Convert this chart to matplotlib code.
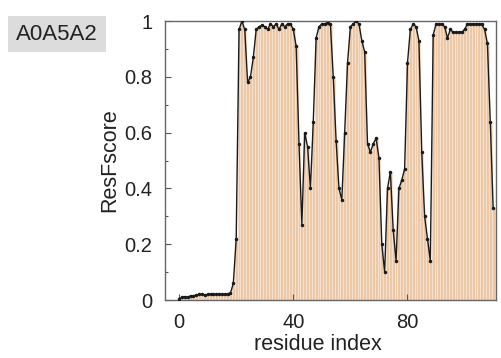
import matplotlib
matplotlib.use("Agg")
import matplotlib.pyplot as plt
from matplotlib.ticker import MultipleLocator
import numpy as np

plt.rcParams['font.family'] = ['Liberation Sans', 'DejaVu Sans']

protein_id = "A0A5A2"
residues = list(range(0, 111))
resf_score = [
    0.005, 0.010, 0.012, 0.010, 0.015, 0.015, 0.018, 0.020, 0.020, 0.018,
    0.020, 0.022, 0.020, 0.020, 0.022, 0.020, 0.020, 0.020, 0.025, 0.060,
    0.220, 0.970, 1.000, 0.970, 0.780, 0.800, 0.870, 0.970, 0.980, 0.985,
    0.980, 0.970, 0.990, 0.980, 0.990, 0.970, 0.990, 0.980, 0.990, 0.990,
    0.970, 0.910, 0.560, 0.270, 0.600, 0.550, 0.400, 0.640, 0.940, 0.980,
    0.990, 0.990, 0.995, 0.990, 0.800, 0.570, 0.400, 0.360, 0.600, 0.850,
    0.980, 0.990, 1.000, 0.990, 0.930, 0.890, 0.560, 0.530, 0.560, 0.580,
    0.510, 0.200, 0.100, 0.400, 0.460, 0.250, 0.140, 0.400, 0.430, 0.470,
    0.850, 0.970, 0.990, 0.980, 0.930, 0.530, 0.300, 0.220, 0.140, 0.950,
    0.990, 0.990, 0.990, 0.980, 0.940, 0.970, 0.960, 0.960, 0.960, 0.960,
    0.970, 0.990, 0.990, 0.990, 0.990, 0.990, 0.990, 0.970, 0.920, 0.640,
    0.330,
]
x_ticks = [0, 40, 80]
y_ticks = [0, 0.2, 0.4, 0.6, 0.8, 1.0]
y_tick_labels = ["0", "0.2", "0.4", "0.6", "0.8", "1"]

fig = plt.figure(figsize=(5.01, 3.58), dpi=100)
ax = fig.add_axes([0.329, 0.162, 0.661, 0.779])

ax.bar(residues, resf_score, width=1.0, color='#ECC7A4',
       edgecolor='#F5E0CE', linewidth=0.8, zorder=1)
ax.plot(residues, resf_score, color='#1a1a1a', lw=1.0, marker='o',
        markersize=1.5, zorder=3)

ax.set_xlim(-5, 111)
ax.set_ylim(0, 1)
ax.set_xticks(x_ticks)
ax.set_yticks(y_ticks)
ax.set_yticklabels(y_tick_labels)
ax.yaxis.set_minor_locator(MultipleLocator(0.1))
ax.tick_params(axis='both', which='major', direction='in', length=4,
               width=0.8, color='#555555', labelsize=14.5, pad=9,
               labelcolor='#222222')
ax.tick_params(axis='y', which='minor', direction='in', length=2,
               width=0.8, color='#555555')
for s in ax.spines.values():
    s.set_color('#666666')
    s.set_linewidth(1.0)

ax.set_xlabel("residue index", fontsize=15.5, color='#222222')
ax.xaxis.set_label_coords((318 - 165) / 331, -0.122)
ax.set_ylabel("ResFscore", fontsize=15.5, color='#222222', labelpad=3)

fig.text(0.114, 0.905, protein_id, fontsize=16, color='#222222',
         ha='center', va='center',
         bbox=dict(boxstyle='square,pad=0.35', facecolor='#DCDCDC',
                   edgecolor='none'))

fig.savefig("out.png", dpi=100)
